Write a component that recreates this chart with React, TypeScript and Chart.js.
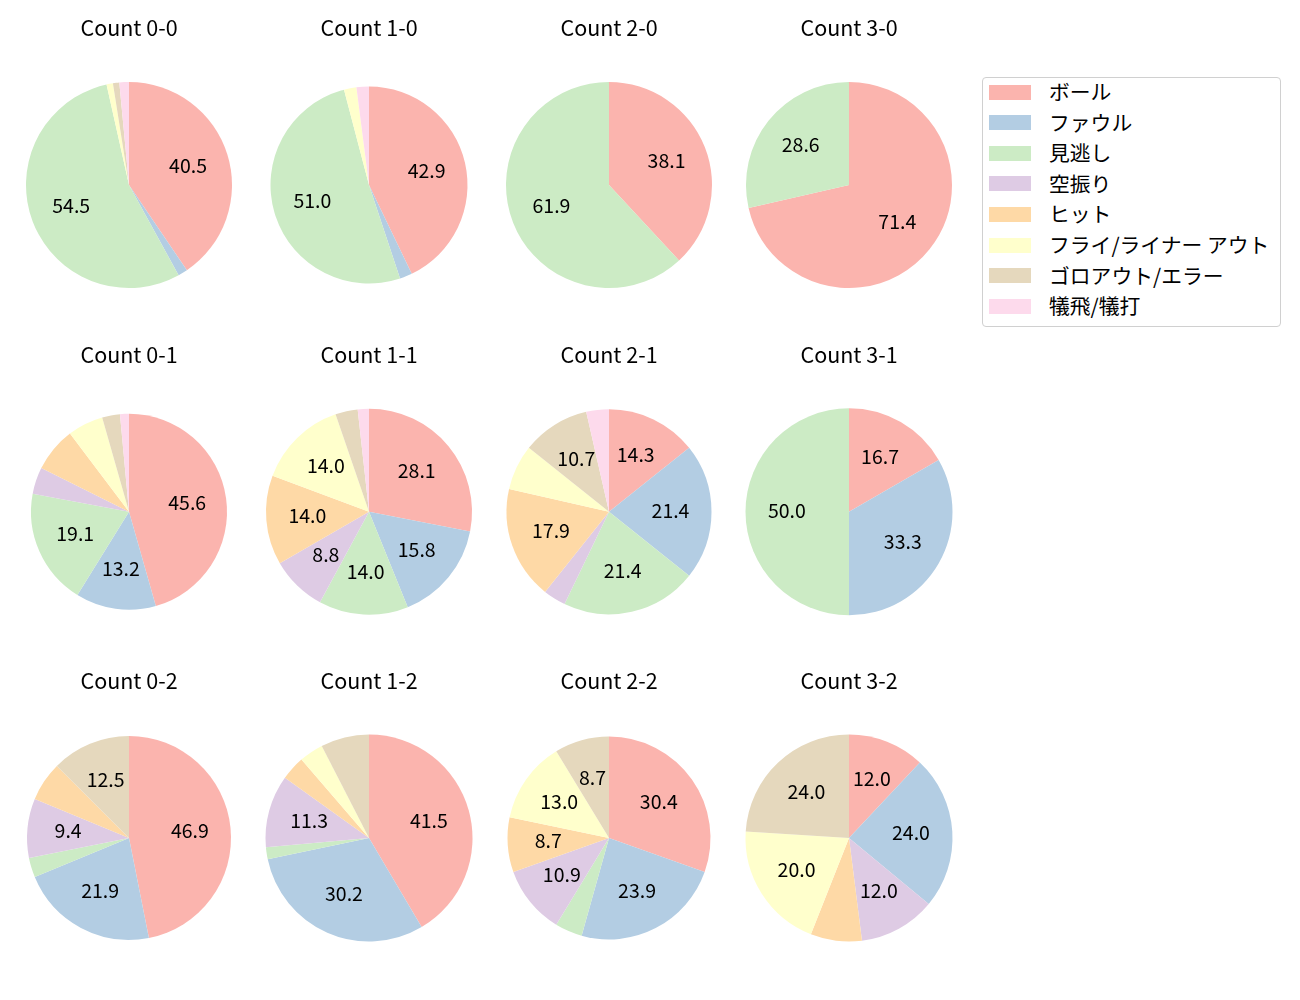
import React, { useEffect, useRef } from 'react';
import { Chart, registerables } from 'chart.js';

Chart.register(...registerables);

const FONT = '"Noto Sans CJK JP", "Noto Sans", sans-serif';

const categories = [
  'ボール',
  'ファウル',
  '見逃し',
  '空振り',
  'ヒット',
  'フライ/ライナー アウト',
  'ゴロアウト/エラー',
  '犠飛/犠打',
];

const colors = ['#fbb4ae', '#b3cde3', '#ccebc5', '#decbe4', '#fed9a6', '#ffffcc', '#e5d8bd', '#fddaec'];

const countLabels = ['0-0', '1-0', '2-0', '3-0', '0-1', '1-1', '2-1', '3-1', '0-2', '1-2', '2-2', '3-2'];

// pitch counts per category (order as in categories)
const c00 = [81, 3, 109, 0, 0, 2, 2, 3];
const c10 = [21, 1, 25, 0, 0, 1, 0, 1];
const c20 = [8, 0, 13, 0, 0, 0, 0, 0];
const c30 = [5, 0, 2, 0, 0, 0, 0, 0];
const c01 = [31, 9, 13, 3, 5, 4, 2, 1];
const c11 = [16, 9, 8, 5, 8, 8, 2, 1];
const c21 = [4, 6, 6, 1, 5, 2, 3, 1];
const c31 = [1, 2, 3, 0, 0, 0, 0, 0];
const c02 = [15, 7, 1, 3, 2, 0, 4, 0];
const c12 = [22, 16, 1, 6, 2, 2, 4, 0];
const c22 = [14, 11, 2, 5, 4, 6, 4, 0];
const c32 = [3, 6, 0, 3, 2, 5, 6, 0];

const seriesValues = [c00, c10, c20, c30, c01, c11, c21, c31, c02, c12, c22, c32];

// layout
const colX = [129, 369, 609, 849];
const rowY = [185, 511.5, 838];
const radii = [103, 98.5, 103, 103, 98, 103, 102.5, 103.5, 102, 103.5, 101.5, 103.5];
const LABEL_MIN_PCT = 8.5;
const TITLE_SIZE = 21.5;
const TITLE_LH = TITLE_SIZE * 1.2;
const TITLE_PT = 4;
const TITLE_OFFSET = 157; // title centre above pie centre
const AREA_HALF = 110;

function PieCell(props: { title: string; values: number[]; cx: number; cy: number; r: number }) {
  const { title, values, cx, cy, r } = props;
  const ref = useRef<HTMLCanvasElement | null>(null);
  const canvasTop = Math.round(cy - TITLE_OFFSET - TITLE_PT - TITLE_LH / 2);
  const pb = cy - AREA_HALF - canvasTop - TITLE_PT - TITLE_LH;
  const height = Math.round(cy + AREA_HALF - canvasTop);

  useEffect(() => {
    if (!ref.current) return;
    const total = values.reduce((a, b) => a + b, 0);
    const labelPlugin = {
      id: 'pctLabels',
      afterDatasetsDraw(chart: any) {
        const ctx = chart.ctx;
        const meta = chart.getDatasetMeta(0);
        ctx.save();
        ctx.font = `19.5px ${FONT}`;
        ctx.fillStyle = '#000';
        ctx.textAlign = 'center';
        ctx.textBaseline = 'middle';
        meta.data.forEach((arc: any, i: number) => {
          const pct = (values[i] / total) * 100;
          if (pct < LABEL_MIN_PCT) return;
          const p = arc.getProps(['x', 'y', 'startAngle', 'endAngle', 'outerRadius'], true);
          const a = (p.startAngle + p.endAngle) / 2;
          ctx.fillText(pct.toFixed(1), p.x + Math.cos(a) * p.outerRadius * 0.6, p.y + Math.sin(a) * p.outerRadius * 0.6 - 1.5);
        });
        ctx.restore();
      },
    };
    const chart = new Chart(ref.current, {
      type: 'pie',
      data: {
        labels: categories,
        datasets: [{ data: values, backgroundColor: colors, borderWidth: 0 }],
      },
      options: {
        responsive: false,
        animation: false,
        radius: r,
        layout: { padding: 0 },
        plugins: {
          legend: { display: false },
          tooltip: { enabled: false },
          title: {
            display: true,
            text: `Count ${title}`,
            color: '#000',
            font: { family: FONT, size: TITLE_SIZE, weight: 'normal', lineHeight: 1.2 },
            padding: { top: TITLE_PT, bottom: pb },
          },
        },
      } as any,
      plugins: [labelPlugin],
    });
    return () => chart.destroy();
  }, []);

  return (
    <canvas
      ref={ref}
      width={240}
      height={height}
      style={{ position: 'absolute', left: cx - 120, top: canvasTop, width: 240, height }}
    />
  );
}

export default function App() {
  return (
    <div style={{ position: 'absolute', left: 0, top: 0, width: 1300, height: 1000, background: '#fff' }}>
      {countLabels.map((t, i) => (
        <PieCell
          key={t}
          title={t}
          values={seriesValues[i]}
          cx={colX[i % 4]}
          cy={rowY[Math.floor(i / 4)]}
          r={radii[i]}
        />
      ))}
      <div
        style={{
          position: 'absolute',
          left: 982,
          top: 77,
          width: 299,
          height: 250,
          boxSizing: 'border-box',
          border: '1px solid #d0d0d0',
          borderRadius: 4,
          background: '#fff',
          fontFamily: FONT,
        }}
      >
        {categories.map((c, i) => (
          <React.Fragment key={c}>
            <div
              style={{
                position: 'absolute',
                left: 6,
                top: 14 + i * 30.6 - 7.5,
                width: 42,
                height: 15,
                background: colors[i],
              }}
            />
            <div
              style={{
                position: 'absolute',
                left: 66,
                top: 14 + i * 30.6 - 13,
                height: 24,
                lineHeight: '24px',
                fontSize: 20.8,
                color: '#000',
                whiteSpace: 'nowrap',
              }}
            >
              {c}
            </div>
          </React.Fragment>
        ))}
      </div>
    </div>
  );
}
